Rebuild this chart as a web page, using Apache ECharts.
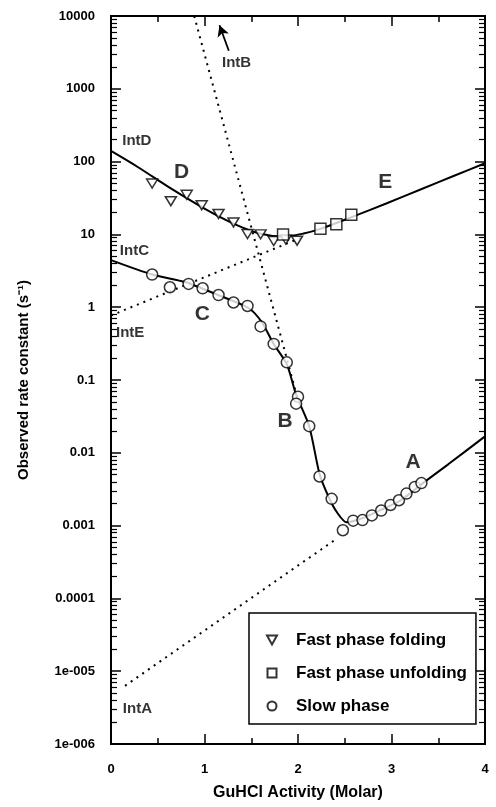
<!DOCTYPE html>
<html>
<head>
<meta charset="utf-8">
<script src="https://cdn.jsdelivr.net/npm/echarts@6/dist/echarts.min.js"></script>
<style>
html,body{margin:0;padding:0;background:#fff;}
#chart{width:496px;height:807px;}
</style>
</head>
<body>
<div id="chart"></div>
<script>
// ---- data ----
const foldX = [0.44, 0.64, 0.81, 0.97, 1.15, 1.31, 1.46, 1.60, 1.74, 1.87, 1.99];
const foldY = [50.0, 28.6, 35.0, 25.1, 19.1, 14.6, 10.1, 10.0, 8.1, 8.5, 8.2];

const unfoldX = [1.84, 2.24, 2.41, 2.57];
const unfoldY = [10.0, 12.0, 13.8, 18.6];

const slowX = [0.44, 0.63, 0.83, 0.98, 1.15, 1.31, 1.46, 1.60, 1.74, 1.88, 2.00, 1.98, 2.12, 2.23, 2.36, 2.48, 2.59, 2.69, 2.79, 2.89, 2.99, 3.08, 3.16, 3.25, 3.32];
const slowY = [2.81, 1.88, 2.09, 1.82, 1.47, 1.16, 1.04, 0.545, 0.313, 0.175, 0.0589, 0.0473, 0.0232, 0.00473, 0.00233, 0.000863, 0.00117, 0.00119, 0.00138, 0.00161, 0.00192, 0.00223, 0.00275, 0.0034, 0.00384];

const fitFastX = [0, 0.29, 0.64, 0.99, 1.31, 1.59, 1.84, 2.06, 2.24, 2.58, 2.95, 3.31, 3.67, 4];
const fitFastY = [140, 83.7, 42.8, 23.0, 14.1, 10.3, 9.33, 10.3, 11.9, 17.4, 26.8, 41.4, 63.9, 95];

const fitSlowX = [0, 0.44, 0.80, 1.15, 1.47, 1.61, 1.74, 1.88, 1.98, 2.12, 2.23, 2.33, 2.42, 2.52, 2.67, 2.88, 3.10, 3.35, 3.61, 4];
const fitSlowY = [4.43, 2.81, 2.20, 1.46, 0.975, 0.631, 0.313, 0.165, 0.0628, 0.0232, 0.00514, 0.00243, 0.00150, 0.00111, 0.00124, 0.00163, 0.00223, 0.00395, 0.00700, 0.0168];

const lineEX = [0, 2.06];
const lineEY = [0.77, 9.3];
const lineAX = [0.15, 2.39];
const lineAY = [6.3e-6, 6.3e-4];
const lineBX = [0.89, 1.98];
const lineBY = [10000, 0.066];

const arrowB = [[1.26, 3330], [1.16, 7450]];

const bigLabels = ['D', 'E', 'C', 'B', 'A'];
const bigLabelX = [0.755, 2.934, 0.978, 1.862, 3.232];
const bigLabelY = [70.7, 52.2, 0.80, 0.0271, 0.00746];

const intLabels = ['IntD', 'IntC', 'IntE', 'IntA', 'IntB'];
const intLabelX = [0.12, 0.094, 0.053, 0.126, 1.187];
const intLabelY = [190, 5.88, 0.442, 3.0e-6, 2280];

const seriesNames = ['Fast phase folding', 'Fast phase unfolding', 'Slow phase'];

const xTickValues = [0, 1, 2, 3, 4];
const xTickLabels = ['0', '1', '2', '3', '4'];
const yTickValues = [1e-6, 1e-5, 1e-4, 1e-3, 1e-2, 1e-1, 1, 10, 100, 1000, 10000];
const yTickLabels = ['1e-006', '1e-005', '0.0001', '0.001', '0.01', '0.1', '1', '10', '100', '1000', '10000'];
const minorMultipliers = [2, 3, 4, 5, 6, 7, 8, 9];

// ---- build ----
const zip = (xs, ys) => xs.map((x, i) => [x, ys[i]]);
const yMinor = [];
for (let i = 0; i < yTickValues.length - 1; i++) {
  minorMultipliers.forEach(m => yMinor.push(yTickValues[i] * m));
}
const FONT = '"Liberation Sans", Arial, sans-serif';
const BLACK = '#000';

function yLabel(v) {
  for (let i = 0; i < yTickValues.length; i++) {
    if (Math.abs(Math.log10(v) - Math.log10(yTickValues[i])) < 1e-6) return yTickLabels[i];
  }
  return '';
}
function xLabel(v) {
  const i = xTickValues.indexOf(v);
  return i >= 0 ? xTickLabels[i] : '';
}

const axisLine = { show: true, lineStyle: { color: BLACK, width: 2 } };
const yBase = { type: 'log', logBase: 10, min: 1e-6, max: 1e4, splitLine: { show: false } };
const xBase = { type: 'value', min: 0, max: 4, interval: 1, splitLine: { show: false } };

const markerStyle = { color: '#fff', borderColor: BLACK, borderWidth: 1.5 };
const dotted = { color: BLACK, width: 2, type: [2, 5] };
const TRI = 'path://M0,0 L10,0 L5,9 Z';
const SQR = 'path://M0,0 L10,0 L10,10 L0,10 Z';

const chart = echarts.init(document.getElementById('chart'), null, { renderer: 'canvas' });
chart.setOption({
  animation: false,
  backgroundColor: '#fff',
  grid: { left: 111, right: 11, top: 16, bottom: 63, containLabel: false },
  xAxis: [
    Object.assign({}, xBase, {
      position: 'bottom',
      axisLine: axisLine,
      axisTick: { show: true, inside: true, length: 10, lineStyle: { color: BLACK, width: 1.5 } },
      minorTick: { show: true, splitNumber: 2, length: 6, lineStyle: { color: BLACK, width: 1.5 } },
      axisLabel: { show: true, margin: 19, color: BLACK, fontFamily: FONT, fontWeight: 'bold', fontSize: 13, formatter: xLabel },
      name: 'GuHCl Activity (Molar)',
      nameLocation: 'middle',
      nameGap: 41,
      nameTextStyle: { color: BLACK, fontFamily: FONT, fontWeight: 'bold', fontSize: 16 }
    }),
    Object.assign({}, xBase, {
      position: 'top',
      axisLine: axisLine,
      axisTick: { show: true, inside: true, length: 10, lineStyle: { color: BLACK, width: 1.5 } },
      minorTick: { show: true, splitNumber: 2, length: 6, lineStyle: { color: BLACK, width: 1.5 } },
      axisLabel: { show: false }
    })
  ],
  yAxis: [
    Object.assign({}, yBase, {
      position: 'left',
      axisLine: axisLine,
      axisTick: { show: true, inside: true, length: 10, customValues: yTickValues, lineStyle: { color: BLACK, width: 1.5 } },
      axisLabel: { show: true, customValues: yTickValues, margin: 16, color: BLACK, fontFamily: FONT, fontWeight: 'bold', fontSize: 13, formatter: yLabel },
      name: 'Observed rate constant (s\u207B\u00B9)',
      nameLocation: 'middle',
      nameGap: 80,
      nameRotate: 90,
      nameTextStyle: { color: BLACK, fontFamily: FONT, fontWeight: 'bold', fontSize: 15 }
    }),
    Object.assign({}, yBase, {
      position: 'left',
      axisLine: axisLine,
      axisTick: { show: true, inside: true, length: 6, customValues: yMinor, lineStyle: { color: BLACK, width: 1.2 } },
      axisLabel: { show: false }
    }),
    Object.assign({}, yBase, {
      position: 'right',
      axisLine: axisLine,
      axisTick: { show: true, inside: true, length: 10, customValues: yTickValues, lineStyle: { color: BLACK, width: 1.5 } },
      axisLabel: { show: false }
    }),
    Object.assign({}, yBase, {
      position: 'right',
      axisLine: axisLine,
      axisTick: { show: true, inside: true, length: 6, customValues: yMinor, lineStyle: { color: BLACK, width: 1.2 } },
      axisLabel: { show: false }
    })
  ],
  legend: {
    data: seriesNames,
    orient: 'vertical',
    left: 249,
    top: 613,
    padding: [18, 9, 9, 17],
    itemWidth: 10,
    itemHeight: 9,
    itemGap: 15,
    selectedMode: false,
    borderColor: BLACK,
    borderWidth: 1.5,
    backgroundColor: '#fff',
    formatter: name => '{gap|}' + name,
    textStyle: {
      color: BLACK, fontFamily: FONT, fontWeight: 'bold', fontSize: 17, lineHeight: 18,
      rich: { gap: { width: 14, fontSize: 17, lineHeight: 18 } }
    }
  },
  series: [
    { name: 'fitFast', type: 'line', data: zip(fitFastX, fitFastY), showSymbol: false, symbol: 'none', smooth: 0.3, lineStyle: { color: BLACK, width: 2 }, z: 2 },
    { name: 'fitSlow', type: 'line', data: zip(fitSlowX, fitSlowY), showSymbol: false, symbol: 'none', smooth: 0.25, lineStyle: { color: BLACK, width: 2 }, z: 2 },
    { name: 'lineE', type: 'line', data: zip(lineEX, lineEY), symbol: 'none', lineStyle: dotted, z: 1 },
    { name: 'lineA', type: 'line', data: zip(lineAX, lineAY), symbol: 'none', lineStyle: dotted, z: 1 },
    { name: 'lineB', type: 'line', data: zip(lineBX, lineBY), symbol: 'none', lineStyle: dotted, z: 1,
      markLine: {
        silent: true, animation: false,
        symbol: ['none', 'arrow'], symbolSize: [9, 11],
        label: { show: false },
        lineStyle: { color: BLACK, width: 1.8, type: 'solid' },
        data: [[{ coord: arrowB[0] }, { coord: arrowB[1] }]]
      }
    },
    { name: seriesNames[0], type: 'scatter', data: zip(foldX, foldY), symbol: TRI, symbolKeepAspect: true, symbolSize: [11, 10], itemStyle: markerStyle, z: 5 },
    { name: seriesNames[1], type: 'scatter', data: zip(unfoldX, unfoldY), symbol: SQR, symbolKeepAspect: true, symbolSize: 11, itemStyle: markerStyle, z: 5 },
    { name: seriesNames[2], type: 'scatter', data: zip(slowX, slowY), symbol: 'circle', symbolSize: 11, itemStyle: markerStyle, z: 5 },
    { name: 'bigLabels', type: 'scatter', symbol: 'circle', symbolSize: 0.1, itemStyle: { color: 'transparent' }, z: 6,
      data: bigLabels.map((t, i) => ({ value: [bigLabelX[i], bigLabelY[i]], label: { formatter: t } })),
      label: { show: true, position: 'inside', color: BLACK, fontFamily: FONT, fontWeight: 'bold', fontSize: 21 }
    },
    { name: 'intLabels', type: 'scatter', symbol: 'circle', symbolSize: 0.1, itemStyle: { color: 'transparent' }, z: 6,
      data: intLabels.map((t, i) => ({ value: [intLabelX[i], intLabelY[i]], label: { formatter: t } })),
      label: { show: true, position: 'right', distance: 0, color: BLACK, fontFamily: FONT, fontWeight: 'bold', fontSize: 15 }
    }
  ]
});
</script>
</body>
</html>
